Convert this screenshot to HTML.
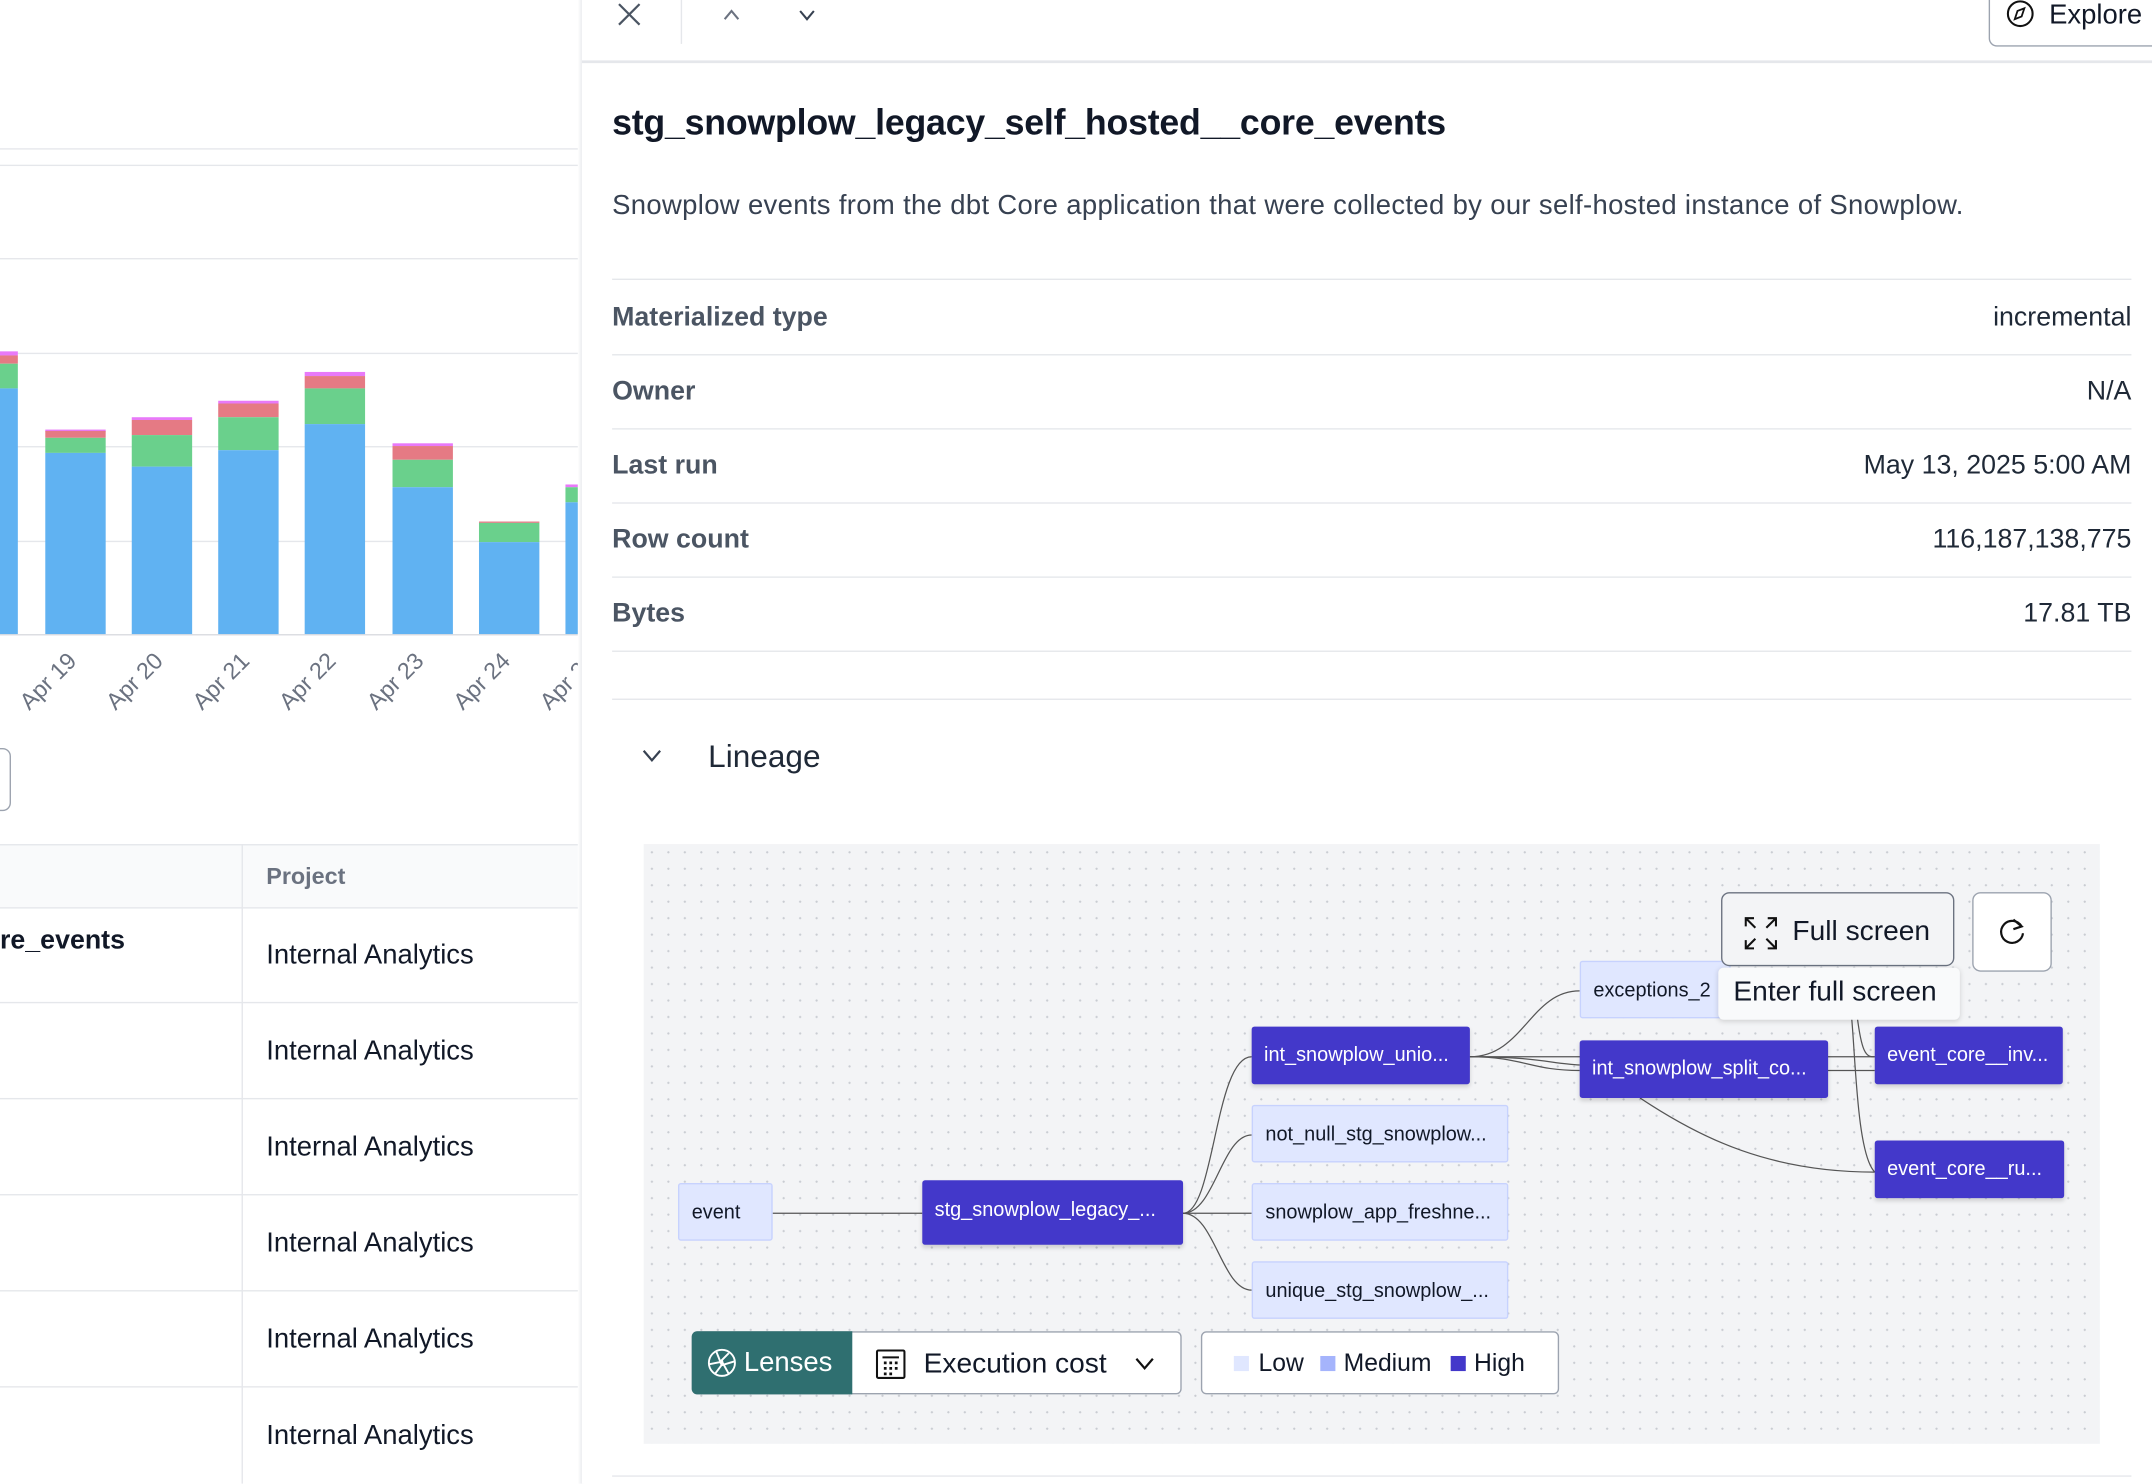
<!DOCTYPE html>
<html><head><meta charset="utf-8"><style>
html,body{margin:0;padding:0;width:2152px;height:1484px;overflow:hidden;background:#fff}
#w{position:absolute;left:0;top:0;width:1568px;height:1081px;transform:scale(1.37245);transform-origin:0 0;font-family:"Liberation Sans",sans-serif;color:#111827}
.a{position:absolute}
.hl{position:absolute;height:1px;background:#e5e7eb}
.lab{position:absolute;font-size:17px;color:#6b7280;transform:rotate(-45deg);transform-origin:right top;white-space:nowrap}
.row{position:absolute;left:446px;width:1107px;height:54px;border-bottom:1px solid #e5e7eb;font-size:19.5px}
.row .k{position:absolute;left:0;top:16px;color:#4b5563;font-weight:bold}
.row .v{position:absolute;right:0;top:16px;color:#1f2937}
.cell{position:absolute;left:194px;font-size:20px;color:#111827;white-space:nowrap}
.node{position:absolute;height:42px;font-size:14.5px;line-height:42px;padding-left:9px;box-sizing:border-box;border-radius:2px;white-space:nowrap;overflow:hidden}
.hi{background:#4338ca;color:#fff;box-shadow:0 2px 3px rgba(0,0,0,.15)}
.lo{background:#e0e7ff;color:#111827;border:1px solid #c7d2fe}
</style></head><body><div id="w">
<div class="hl" style="left:0;top:108px;width:424px"></div>
<div class="hl" style="left:0;top:120px;width:424px"></div>
<div class="hl" style="left:0;top:188px;width:424px"></div>
<div class="hl" style="left:0;top:257px;width:424px"></div>
<div class="hl" style="left:0;top:325px;width:424px"></div>
<div class="hl" style="left:0;top:394px;width:424px"></div>
<div class="hl" style="left:0;top:462px;width:424px;background:#d9dbe0"></div>
<svg class="a" style="left:0;top:0" width="424" height="470">
<g>
<rect x="0" y="256" width="13" height="3" fill="#e879f9"/><rect x="0" y="259" width="13" height="6" fill="#e57a84"/><rect x="0" y="265" width="13" height="18" fill="#6ad08c"/><rect x="0" y="283" width="13" height="179" fill="#60b2f2"/>
<rect x="33" y="313" width="44" height="1.5" fill="#e879f9"/><rect x="33" y="314" width="44" height="5" fill="#e57a84"/><rect x="33" y="319" width="44" height="11" fill="#6ad08c"/><rect x="33" y="330" width="44" height="132" fill="#60b2f2"/>
<rect x="96" y="304" width="44" height="2" fill="#e879f9"/><rect x="96" y="306" width="44" height="11" fill="#e57a84"/><rect x="96" y="317" width="44" height="23" fill="#6ad08c"/><rect x="96" y="340" width="44" height="122" fill="#60b2f2"/>
<rect x="159" y="292" width="44" height="2" fill="#e879f9"/><rect x="159" y="294" width="44" height="10" fill="#e57a84"/><rect x="159" y="304" width="44" height="24" fill="#6ad08c"/><rect x="159" y="328" width="44" height="134" fill="#60b2f2"/>
<rect x="222" y="271" width="44" height="3" fill="#e879f9"/><rect x="222" y="274" width="44" height="9" fill="#e57a84"/><rect x="222" y="283" width="44" height="26" fill="#6ad08c"/><rect x="222" y="309" width="44" height="153" fill="#60b2f2"/>
<rect x="286" y="323" width="44" height="2" fill="#e879f9"/><rect x="286" y="325" width="44" height="10" fill="#e57a84"/><rect x="286" y="335" width="44" height="20" fill="#6ad08c"/><rect x="286" y="355" width="44" height="107" fill="#60b2f2"/>
<rect x="349" y="380" width="44" height="1" fill="#e57a84"/><rect x="349" y="381" width="44" height="14" fill="#6ad08c"/><rect x="349" y="395" width="44" height="67" fill="#60b2f2"/>
<rect x="412" y="353" width="12" height="2" fill="#e879f9"/><rect x="412" y="355" width="12" height="11" fill="#6ad08c"/><rect x="412" y="366" width="12" height="96" fill="#60b2f2"/>
</g></svg>
<div class="lab" style="left:-4px;top:472px">Apr 19</div>
<div class="lab" style="left:59px;top:472px">Apr 20</div>
<div class="lab" style="left:122px;top:472px">Apr 21</div>
<div class="lab" style="left:185px;top:472px">Apr 22</div>
<div class="lab" style="left:249px;top:472px">Apr 23</div>
<div class="lab" style="left:312px;top:472px">Apr 24</div>
<div class="lab" style="left:375px;top:472px">Apr 25</div>
<div class="a" style="left:-10px;top:545px;width:16px;height:44px;border:1px solid #9ca3af;border-radius:6px"></div>
<div class="a" style="left:0;top:615px;width:424px;height:45px;background:#f9fafb;border-top:1px solid #e5e7eb;border-bottom:1px solid #e5e7eb"></div>
<div class="a" style="left:176px;top:615px;width:1px;height:466px;background:#e5e7eb"></div>
<div class="a" style="left:194px;top:629px;font-size:17px;font-weight:bold;color:#6b7280">Project</div>
<div class="a" style="left:0;top:674px;font-size:19.5px;font-weight:bold">re_events</div>
<div class="hl" style="left:0;top:730px;width:424px"></div>
<div class="hl" style="left:0;top:800px;width:424px"></div>
<div class="hl" style="left:0;top:870px;width:424px"></div>
<div class="hl" style="left:0;top:940px;width:424px"></div>
<div class="hl" style="left:0;top:1010px;width:424px"></div>
<div class="a" style="left:176px;top:661px;width:176px;height:420px;overflow:hidden">
<div class="cell" style="left:18px;top:24px">Internal Analytics</div>
<div class="cell" style="left:18px;top:94px">Internal Analytics</div>
<div class="cell" style="left:18px;top:164px">Internal Analytics</div>
<div class="cell" style="left:18px;top:234px">Internal Analytics</div>
<div class="cell" style="left:18px;top:304px">Internal Analytics</div>
<div class="cell" style="left:18px;top:374px">Internal Analytics</div>
</div>
<div class="a" style="left:421px;top:0;width:4px;height:1081px;background:linear-gradient(90deg,#fff,#e5e7eb)"></div>
<div class="a" style="left:424px;top:0;width:1144px;height:1081px;background:#fff"></div>
<div class="hl" style="left:424px;top:44px;width:1144px;height:2px"></div>
<div class="a" style="left:496px;top:0;width:1px;height:32px;background:#e5e7eb"></div>
<svg class="a" style="left:448px;top:0" width="160" height="24"><path d="M3 3L18 18M18 3L3 18" stroke="#4b5563" stroke-width="1.6"/><path d="M80 14L85 8L90 14" stroke="#6b7280" fill="none" stroke-width="1.5"/><path d="M135 8L140 14L145 8" stroke="#374151" fill="none" stroke-width="1.5"/></svg>
<div class="a" style="left:1449px;top:-10px;width:130px;height:42px;border:1px solid #9ca3af;border-radius:6px"></div>
<svg class="a" style="left:1461px;top:0" width="22" height="22"><circle cx="11" cy="10" r="9" stroke="#111" fill="none" stroke-width="1.5"/><path d="M14 6L12 12L7 14L9 8Z" stroke="#111" fill="none" stroke-width="1.3"/></svg>
<div class="a" style="left:1493px;top:0;font-size:20px">Explore</div>
<div class="a" style="left:446px;top:74px;font-size:26px;font-weight:bold;letter-spacing:-0.15px">stg_snowplow_legacy_self_hosted__core_events</div>
<div class="a" style="left:446px;top:139px;font-size:20px;color:#374151;letter-spacing:0.25px">Snowplow events from the dbt Core application that were collected by our self-hosted instance of Snowplow.</div>
<div class="hl" style="left:446px;top:203px;width:1107px"></div>
<div class="row" style="top:204px"><span class="k">Materialized type</span><span class="v">incremental</span></div>
<div class="row" style="top:258px"><span class="k">Owner</span><span class="v">N/A</span></div>
<div class="row" style="top:312px"><span class="k">Last run</span><span class="v">May 13, 2025 5:00 AM</span></div>
<div class="row" style="top:366px"><span class="k">Row count</span><span class="v">116,187,138,775</span></div>
<div class="row" style="top:420px"><span class="k">Bytes</span><span class="v">17.81 TB</span></div>
<div class="hl" style="left:446px;top:509px;width:1107px"></div>
<svg class="a" style="left:467px;top:544px" width="18" height="14"><path d="M2 3L8 10L14 3" stroke="#374151" fill="none" stroke-width="1.6"/></svg>
<div class="a" style="left:516px;top:538px;font-size:23px;color:#1f2937">Lineage</div>
<div class="a" style="left:469px;top:615px;width:1061px;height:437px;background-color:#f3f4f6;background-image:radial-gradient(#c9ccd2 0.7px,transparent 0.9px);background-size:12px 12px"></div>
<div class="hl" style="left:446px;top:1075px;width:1107px"></div>
<svg class="a" style="left:0;top:0" width="1568" height="1081" fill="none" stroke="#555" stroke-width="0.9">
<path d="M563 884H672"/>
<path d="M862 884C885 884 885 770 912 770"/>
<path d="M862 884C885 884 890 827 912 827"/>
<path d="M862 884H912"/>
<path d="M862 884C885 884 890 940 912 940"/>
<path d="M1071 770C1110 770 1115 722 1151 722"/>
<path d="M1071 770C1110 770 1115 780 1151 780"/>
<path d="M1071 770C1120 770 1130 775 1151 776"/>
<path d="M1071 770H1366"/>
<path d="M1331 780H1366"/>
<path d="M1195 800C1240 830 1290 854 1366 854"/>
<path d="M1348 730C1352 760 1352 840 1366 854"/>
<path d="M1352 730C1356 770 1360 770 1366 770"/>
</svg>
<div class="node lo" style="left:494px;top:862px;width:69px">event</div>
<div class="node hi" style="left:672px;top:860px;width:190px;height:47px;line-height:44px">stg_snowplow_legacy_...</div>
<div class="node hi" style="left:912px;top:748px;width:159px">int_snowplow_unio...</div>
<div class="node lo" style="left:912px;top:805px;width:187px">not_null_stg_snowplow...</div>
<div class="node lo" style="left:912px;top:862px;width:187px">snowplow_app_freshne...</div>
<div class="node lo" style="left:912px;top:919px;width:187px">unique_stg_snowplow_...</div>
<div class="node lo" style="left:1151px;top:700px;width:110px">exceptions_2</div>
<div class="node hi" style="left:1151px;top:758px;width:181px">int_snowplow_split_co...</div>
<div class="node hi" style="left:1366px;top:748px;width:137px">event_core__inv...</div>
<div class="node hi" style="left:1366px;top:831px;width:138px">event_core__ru...</div>
<div class="a" style="left:1254px;top:650px;width:170px;height:54px;border:1px solid #6b7280;border-radius:6px;background:#f3f4f6;box-sizing:border-box"></div>
<svg class="a" style="left:1270px;top:667px" width="26" height="26" stroke="#111" fill="none" stroke-width="1.5"><path d="M2 8V2H8M2 2L9 9M18 2H24V8M24 2L17 9M2 18V24H8M2 24L9 17M24 18V24H18M24 24L17 17"/></svg>
<div class="a" style="left:1306px;top:667px;font-size:20.5px">Full screen</div>
<div class="a" style="left:1437px;top:650px;width:58px;height:58px;border:1px solid #9ca3af;border-radius:6px;background:#fff;box-sizing:border-box"></div>
<svg class="a" style="left:1454px;top:667px" width="24" height="24" stroke="#111" fill="none" stroke-width="1.6"><path d="M19 8A8 8 0 1 0 20 13"/><path d="M13 3L19 8L13 10"/></svg>
<div class="a" style="left:1252px;top:705px;width:176px;height:38px;background:#f9fafb;border-radius:4px;box-shadow:0 1px 4px rgba(0,0,0,.15)"></div>
<div class="a" style="left:1263px;top:711px;font-size:20.5px">Enter full screen</div>
<div class="a" style="left:504px;top:970px;width:357px;height:46px;border:1px solid #9ca3af;border-radius:4px;background:#fff;box-sizing:border-box"></div>
<div class="a" style="left:504px;top:970px;width:117px;height:46px;background:#2f6f70;border-radius:4px 0 0 4px"></div>
<svg class="a" style="left:515px;top:982px" width="22" height="22" stroke="#fff" fill="none" stroke-width="1.4"><circle cx="11" cy="11" r="9.5"/><path d="M7 3L11 13M16 4L9 11M20 10L10 13M16 19L11 10M6 19L12 11M2 12L12 10"/></svg>
<div class="a" style="left:542px;top:982px;font-size:20px;color:#fff">Lenses</div>
<svg class="a" style="left:637px;top:982px" width="24" height="24" stroke="#111" fill="none" stroke-width="1.5"><rect x="2" y="2" width="20" height="20" rx="1"/><path d="M6 7H18"/><path d="M7 11h2M11 11h2M15 11h2M7 15h2M11 15h2M15 15h2M7 19h2M11 19h2" stroke-width="2"/></svg>
<div class="a" style="left:673px;top:982px;font-size:20.5px">Execution cost</div>
<svg class="a" style="left:826px;top:988px" width="16" height="12"><path d="M2 2L8 9L14 2" stroke="#111" fill="none" stroke-width="1.6"/></svg>
<div class="a" style="left:875px;top:970px;width:261px;height:46px;border:1px solid #9ca3af;border-radius:4px;background:#fff;box-sizing:border-box"></div>
<div class="a" style="left:899px;top:988px;width:11px;height:11px;background:#e0e7ff"></div>
<div class="a" style="left:917px;top:983px;font-size:18px">Low</div>
<div class="a" style="left:962px;top:988px;width:11px;height:11px;background:#a5b4fc"></div>
<div class="a" style="left:979px;top:983px;font-size:18px">Medium</div>
<div class="a" style="left:1057px;top:988px;width:11px;height:11px;background:#4338ca"></div>
<div class="a" style="left:1074px;top:983px;font-size:18px">High</div>
</div></body></html>
